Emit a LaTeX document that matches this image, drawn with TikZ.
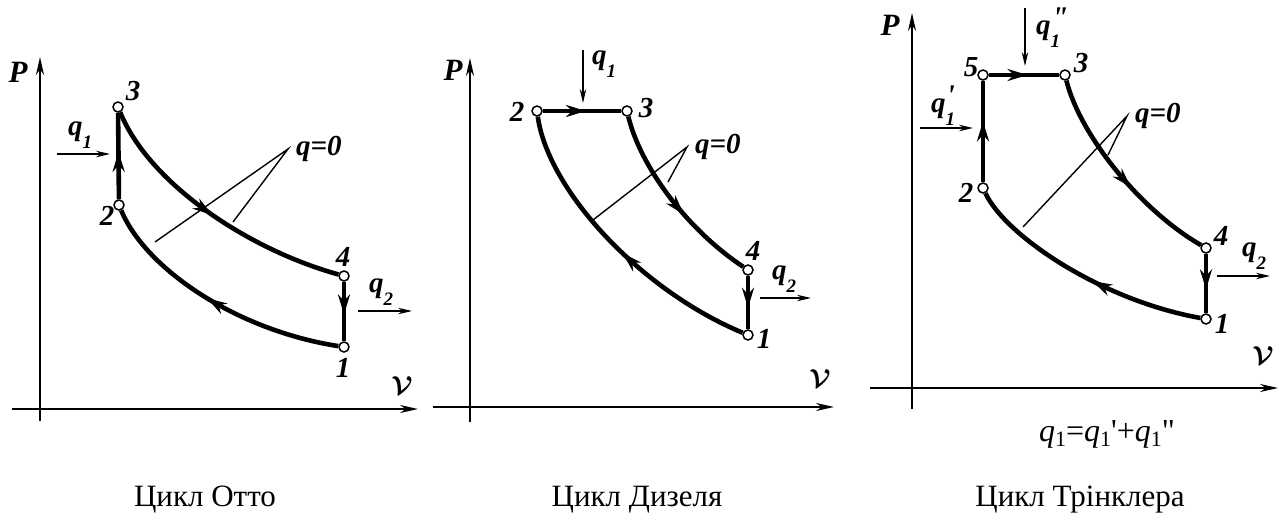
\documentclass[tikz,border=0pt]{standalone}
\usepackage{fontspec,amsmath,graphicx}
\setmainfont{Liberation Serif}
\usetikzlibrary{arrows.meta, decorations.markings}

\newcommand{\qlab}[2]{q\rlap{\raisebox{-0.45em}{\fontsize{19}{19}\selectfont #1}}\rlap{\raisebox{0.25em}{\fontsize{30}{30}\selectfont\kern1pt #2}}\phantom{\fontsize{19}{19}\selectfont #1}}
\newcommand{\qone}{\textit{q}\raisebox{-5pt}{\fontsize{22}{22}\selectfont 1}}
\newcommand{\vlab}{\scalebox{2.6}{$\boldsymbol{\mathcal{V}}$}}

\tikzset{
  axis/.style={line width=2.2pt, -{Stealth[length=18pt, width=8pt]}},
  cyc/.style={line width=4.6pt},
  heat/.style={line width=1.7pt, -{Stealth[length=14pt, width=6.5pt]}},
  lead/.style={line width=1.4pt},
  spt/.style={circle, draw, fill=white, line width=1.5pt, minimum size=10pt, inner sep=0pt},
  lbl/.style={font=\fontsize{29}{29}\selectfont\bfseries\itshape, inner sep=1pt},
  zero/.style={lbl, anchor=west, inner xsep=8pt},
  flow/.style={postaction={decorate}, decoration={markings,
      mark=at position #1 with {\arrow{Stealth[length=20pt, width=12pt]}}}},
  capt/.style={font=\fontsize{31}{31}\selectfont, anchor=base},
}

\begin{document}
\begin{tikzpicture}[x=1pt, y=-1pt]
\useasboundingbox (0,0) rectangle (1280,514);

% ---- Otto cycle ----
% Axes
\coordinate (oA) at (40,421); \coordinate (oP) at (40,57);
\coordinate (oB) at (12,409); \coordinate (oV) at (418,409);
\draw[axis] (oA) -- (oP);
\draw[axis] (oB) -- (oV);
\node[lbl, font=\fontsize{31}{31}\selectfont\bfseries\itshape] (oPl) at (18,72) {P};
\node (oVl) at (402,386) {\vlab};
% States
\node[spt] (o1) at (344,347) {};
\node[spt] (o2) at (119,205) {};
\node[spt] (o3) at (118,107) {};
\node[spt] (o4) at (344,276) {};
\node[lbl] (o1l) at (343,368) {1};
\node[lbl] (o2l) at (107,216) {2};
\node[lbl] (o3l) at (133,91) {3};
\node[lbl] (o4l) at (343,257) {4};
% Cycle
\draw[cyc, flow=0.55] (o2) -- (o3);
\draw[cyc, flow=0.5] (o3) .. controls (150,185) and (250,250) .. (o4);
\draw[cyc, flow=0.55] (o4) -- (o1);
\draw[cyc, flow=0.53] (o1) .. controls (235,330) and (145,268) .. (o2);
% Heat
\coordinate (oq1a) at (57,154); \coordinate (oq1b) at (110,154);
\draw[heat] (oq1a) -- (oq1b);
\node[lbl] (oq1) at (80,135) {\qlab{1}{}};
\coordinate (oq2a) at (358,311); \coordinate (oq2b) at (412,311);
\draw[heat] (oq2a) -- (oq2b);
\node[lbl] (oq2) at (381,292) {\qlab{2}{}};
% Adiabats
\node[zero] (oq0) at (288,149) {q=0};
\coordinate (oL1) at (155,242); \coordinate (oL2) at (233,222);
\draw[lead] (oL1) -- (oq0.west) -- (oL2);

% ---- Diesel cycle ----
% Axes
\coordinate (dA) at (470,422); \coordinate (dP) at (470,58);
\coordinate (dB) at (433,407); \coordinate (dV) at (834,407);
\draw[axis] (dA) -- (dP);
\draw[axis] (dB) -- (dV);
\node[lbl, font=\fontsize{31}{31}\selectfont\bfseries\itshape] (dPl) at (453,70) {P};
\node (dVl) at (820,379) {\vlab};
% States
\node[spt] (d1) at (748,335) {};
\node[spt] (d2) at (537,111) {};
\node[spt] (d3) at (627,111) {};
\node[spt] (d4) at (748,270) {};
\node[lbl] (d1l) at (764,339) {1};
\node[lbl] (d2l) at (517,112) {2};
\node[lbl] (d3l) at (646,108) {3};
\node[lbl] (d4l) at (753,251) {4};
% Cycle
\draw[cyc, flow=0.55] (d2) -- (d3);
\draw[cyc, flow=0.59] (d3) .. controls (640,165) and (685,228) .. (d4);
\draw[cyc, flow=0.6] (d4) -- (d1);
\draw[cyc, flow=0.47] (d1) .. controls (640,290) and (548,190) .. (d2);
% Heat
\coordinate (dq1a) at (583,50); \coordinate (dq1b) at (583,103);
\draw[heat] (dq1a) -- (dq1b);
\node[lbl] (dq1) at (604,64) {\qlab{1}{}};
\coordinate (dq2a) at (760,298); \coordinate (dq2b) at (811,298);
\draw[heat] (dq2a) -- (dq2b);
\node[lbl] (dq2) at (784,279) {\qlab{2}{}};
% Adiabats
\node[zero] (dq0) at (687,147) {q=0};
\coordinate (dL1) at (593,220); \coordinate (dL2) at (668,182);
\draw[lead] (dL1) -- (dq0.west) -- (dL2);

% ---- Trinkler cycle ----
% Axes
\coordinate (tA) at (912,409); \coordinate (tP) at (912,13);
\coordinate (tB) at (870,388); \coordinate (tV) at (1278,388);
\draw[axis] (tA) -- (tP);
\draw[axis] (tB) -- (tV);
\node[lbl, font=\fontsize{31}{31}\selectfont\bfseries\itshape] (tPl) at (890,25) {P};
\node (tVl) at (1263,356) {\vlab};
% States
\node[spt] (t1) at (1206,319) {};
\node[spt] (t2) at (983,188) {};
\node[spt] (t3) at (1065,75) {};
\node[spt] (t4) at (1206,248) {};
\node[spt] (t5) at (983,75) {};
\node[lbl] (t1l) at (1222,324) {1};
\node[lbl] (t2l) at (966,193) {2};
\node[lbl] (t3l) at (1081,63) {3};
\node[lbl] (t4l) at (1221,236) {4};
\node[lbl] (t5l) at (971,67) {5};
% Cycle
\draw[cyc, flow=0.6] (t2) -- (t5);
\draw[cyc, flow=0.55] (t5) -- (t3);
\draw[cyc, flow=0.58] (t3) .. controls (1080,135) and (1140,210) .. (t4);
\draw[cyc, flow=0.6] (t4) -- (t1);
\draw[cyc, flow=0.45] (t1) .. controls (1100,300) and (1005,235) .. (t2);
% Heat
\coordinate (tq1a) at (1025,8); \coordinate (tq1b) at (1025,66);
\draw[heat] (tq1a) -- (tq1b);
\node[lbl] (tq1) at (1048,28) {\qlab{1}{\textquotedbl}};
\coordinate (tq0a) at (920,128); \coordinate (tq0b) at (973,128);
\draw[heat] (tq0a) -- (tq0b);
\node[lbl] (tq1p) at (943,106) {\qlab{1}{\textquotesingle}};
\coordinate (tq2a) at (1217,276); \coordinate (tq2b) at (1270,276);
\draw[heat] (tq2a) -- (tq2b);
\node[lbl] (tq2) at (1254,256) {\qlab{2}{}};
% Adiabats
\node[zero] (tq0) at (1127,116) {q=0};
\coordinate (tL1) at (1023,227); \coordinate (tL2) at (1108,155);
\draw[lead] (tL1) -- (tq0.west) -- (tL2);
% Sum of heats
\node[anchor=base, font=\fontsize{32}{32}\selectfont] (tsum) at (1107,441)
  {\qone=\qone\textquotesingle+\qone\textquotedbl};

% Captions
\node[capt] (cOtto) at (205,506) {Цикл Отто};
\node[capt] (cDiesel) at (637,506) {Цикл Дизеля};
\node[capt] (cTrink) at (1080,506) {Цикл Трінклера};
\end{tikzpicture}
\end{document}
